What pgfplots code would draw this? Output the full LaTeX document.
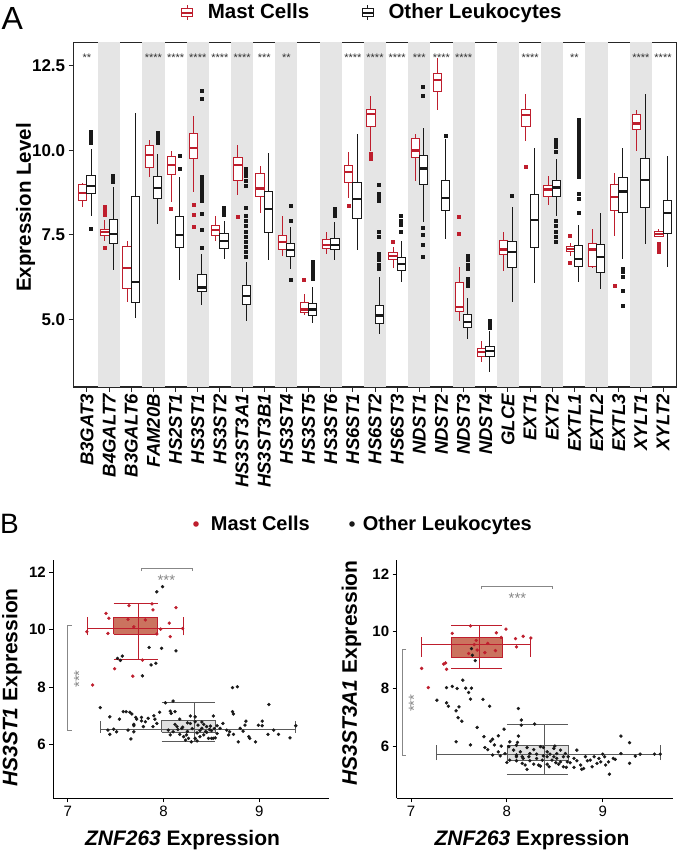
\documentclass[border=0pt]{standalone}
\usepackage{fontspec}
\setmainfont{Liberation Sans}
\usepackage{pgfplots}
\pgfplotsset{compat=1.18}
\usepgfplotslibrary{statistics}

\definecolor{mastred}{RGB}{190,30,45}
\definecolor{mastfill}{RGB}{190,80,55}
\definecolor{otherblk}{RGB}{25,25,25}
\definecolor{bandgray}{RGB}{229,229,229}
\definecolor{sigray}{RGB}{135,135,135}
\definecolor{boxgray}{RGB}{215,215,215}
\definecolor{edgegray}{RGB}{90,90,90}

\newcommand{\fs}[1]{\fontsize{#1}{#1}\selectfont}
% pos, lower whisker, q1, median, q3, upper whisker, outliers
\newcommand{\mastbx}[7]{\addplot[mastred, line width=1pt, fill=white, mark=square*, mark size=1.5pt,
  mark options={fill=mastred, draw=none, solid},
  boxplot prepared={draw position=#1-0.1875, lower whisker=#2, lower quartile=#3,
  median=#4, upper quartile=#5, upper whisker=#6}] coordinates {#7};}
\newcommand{\otherbx}[7]{\addplot[otherblk, line width=1pt, fill=white, mark=square*, mark size=1.5pt,
  mark options={fill=otherblk, draw=none, solid},
  boxplot prepared={draw position=#1+0.1875, lower whisker=#2, lower quartile=#3,
  median=#4, upper quartile=#5, upper whisker=#6}] coordinates {#7};}
% straight segment
\newcommand{\seg}[5]{\addplot[#1, line width=1pt, no markers] coordinates {(#2,#3)(#4,#5)};}

\begin{document}
\begin{tikzpicture}
\useasboundingbox (0pt,0pt) rectangle (677pt,855pt);

% ---------- panel A ----------
\node[anchor=base west, inner sep=0pt, font=\fs{32}] at (1.5pt,825pt) {A};
\draw[mastred, line width=1pt] (187pt,835pt) -- (187pt,849.5pt);
\draw[mastred, line width=1pt, fill=white] (181.5pt,838.5pt) rectangle (192.5pt,846pt);
\draw[mastred, line width=1.6pt] (181.5pt,842.2pt) -- (192.5pt,842.2pt);
\node[anchor=base west, inner sep=0pt, font=\fs{20.5}\bfseries] at (207.6pt,836.7pt) {Mast Cells};
\draw[otherblk, line width=1pt] (367.5pt,835pt) -- (367.5pt,849.5pt);
\draw[otherblk, line width=1pt, fill=white] (362pt,838.5pt) rectangle (373pt,846pt);
\draw[otherblk, line width=1.6pt] (362pt,842.2pt) -- (373pt,842.2pt);
\node[anchor=base west, inner sep=0pt, font=\fs{20.5}\bfseries] at (388.3pt,836.7pt) {Other Leukocytes};
\node[rotate=90, font=\fs{20.5}\bfseries] at (25.5pt,647.5pt) {Expression Level};

\begin{axis}[
  at={(73.7pt,468pt)}, anchor=south west, scale only axis,
  width=602.6pt, height=344.5pt,
  xmin=-0.6, xmax=26.6, ymin=3.01, ymax=13.18,
  xtick={0,...,26},
  xticklabels={B3GAT3,B4GALT7,B3GALT6,FAM20B,HS2ST1,HS3ST1,HS3ST2,HS3ST3A1,HS3ST3B1,
    HS3ST4,HS3ST5,HS3ST6,HS6ST1,HS6ST2,HS6ST3,NDST1,NDST2,NDST3,NDST4,GLCE,EXT1,EXT2,
    EXTL1,EXTL2,EXTL3,XYLT1,XYLT2},
  ytick={5,7.5,10,12.5}, yticklabels={5.0,7.5,10.0,12.5},
  tick pos=left, tick align=outside, major tick length=5pt,
  tick style={line width=1pt, black!85},
  axis line style={line width=1.2pt, black!85},
  x tick label style={rotate=90, anchor=east, font=\fs{18.5}\bfseries\itshape, inner sep=2pt},
  y tick label style={font=\fs{17}\bfseries},
  boxplot/draw direction=y,
  boxplot/whisker extend=0, boxplot/box extend=0.375,
  boxplot/every median/.style={line width=2.2pt},
]
\fill[bandgray] (axis cs:0.5,0) rectangle (axis cs:1.5,20);
\fill[bandgray] (axis cs:2.5,0) rectangle (axis cs:3.5,20);
\fill[bandgray] (axis cs:4.5,0) rectangle (axis cs:5.5,20);
\fill[bandgray] (axis cs:6.5,0) rectangle (axis cs:7.5,20);
\fill[bandgray] (axis cs:8.5,0) rectangle (axis cs:9.5,20);
\fill[bandgray] (axis cs:10.5,0) rectangle (axis cs:11.5,20);
\fill[bandgray] (axis cs:12.5,0) rectangle (axis cs:13.5,20);
\fill[bandgray] (axis cs:14.5,0) rectangle (axis cs:15.5,20);
\fill[bandgray] (axis cs:16.5,0) rectangle (axis cs:17.5,20);
\fill[bandgray] (axis cs:18.5,0) rectangle (axis cs:19.5,20);
\fill[bandgray] (axis cs:20.5,0) rectangle (axis cs:21.5,20);
\fill[bandgray] (axis cs:22.5,0) rectangle (axis cs:23.5,20);
\fill[bandgray] (axis cs:24.5,0) rectangle (axis cs:25.5,20);

\mastbx{0}{8.31}{8.53}{8.74}{8.98}{9.03}{}
\otherbx{0}{8.07}{8.71}{8.95}{9.26}{10.03}{(0,10.55)(0,10.42)(0,10.3)(0,10.2)(0,7.67)}
\mastbx{1}{7.33}{7.48}{7.59}{7.67}{7.94}{(0,8.31)(0,8.2)(0,8.08)(0,7.1)}
\otherbx{1}{6.45}{7.26}{7.53}{7.94}{8.9}{(0,9.25)(0,9.15)(0,9.05)}
\mastbx{2}{5.51}{5.91}{6.52}{7.16}{7.33}{}
\otherbx{2}{5.04}{5.51}{6.12}{8.64}{11.1}{}
\mastbx{3}{9.2}{9.5}{9.87}{10.13}{10.31}{}
\otherbx{3}{7.82}{8.58}{8.89}{9.22}{9.89}{(0,10.5)(0,10.4)(0,10.3)(0,10.2)}
\mastbx{4}{8.48}{9.28}{9.57}{9.82}{9.97}{(0,8.26)}
\otherbx{4}{6.16}{7.13}{7.49}{8.03}{9.22}{(0,9.82)(0,9.46)}
\mastbx{5}{8.76}{9.77}{10.07}{10.49}{11.0}{(0,8.39)(0,8.09)(0,7.72)}
\otherbx{5}{5.44}{5.82}{5.95}{6.32}{6.94}{(0,7.1)(0,7.65)(0,8.12)(0,8.5)(0,8.6)(0,8.7)(0,8.8)(0,8.9)(0,9.0)(0,9.1)(0,9.2)(0,11.51)(0,11.74)}
\mastbx{6}{7.33}{7.48}{7.65}{7.77}{8.07}{}
\otherbx{6}{6.79}{7.1}{7.33}{7.55}{7.92}{(0,8.3)(0,8.2)(0,8.1)}
\mastbx{7}{8.68}{9.12}{9.56}{9.79}{10.16}{(0,8.02)}
\otherbx{7}{4.97}{5.46}{5.69}{6.0}{6.71}{(0,9.44)(0,9.35)(0,9.25)(0,9.1)(0,8.95)(0,8.28)(0,8.05)(0,7.9)(0,7.75)(0,7.6)(0,7.45)(0,7.3)(0,7.15)(0,7.0)(0,6.85)}
\mastbx{8}{8.15}{8.64}{8.87}{9.32}{9.52}{}
\otherbx{8}{6.77}{7.58}{8.27}{8.79}{9.91}{}
\mastbx{9}{6.89}{7.06}{7.28}{7.48}{8.05}{}
\otherbx{9}{6.48}{6.87}{7.06}{7.24}{7.74}{(0,8.36)(0,7.92)(0,6.18)}
\mastbx{10}{5.14}{5.22}{5.3}{5.51}{5.76}{(0,6.18)}
\otherbx{10}{4.9}{5.12}{5.3}{5.48}{5.95}{(0,6.7)(0,6.6)(0,6.5)(0,6.4)(0,6.3)(0,6.2)}
\mastbx{11}{6.94}{7.1}{7.21}{7.35}{7.6}{}
\otherbx{11}{6.77}{7.07}{7.21}{7.4}{7.87}{(0,8.25)(0,8.15)(0,8.05)}
\mastbx{12}{8.58}{9.05}{9.35}{9.54}{9.94}{(0,8.36)}
\otherbx{12}{7.06}{7.97}{8.56}{9.05}{10.48}{}
\mastbx{13}{9.98}{10.7}{11.07}{11.21}{11.6}{(0,9.9)(0,9.82)(0,9.74)}
\otherbx{13}{4.58}{4.87}{5.12}{5.41}{6.25}{(0,8.98)(0,8.7)(0,8.6)(0,8.5)(0,7.6)(0,7.45)(0,6.95)(0,6.85)(0,6.75)(0,6.6)(0,6.5)}
\mastbx{14}{6.52}{6.76}{6.87}{6.99}{7.13}{(0,7.3)}
\otherbx{14}{6.12}{6.45}{6.63}{6.84}{7.33}{(0,8.05)(0,7.9)(0,7.8)(0,7.6)}
\mastbx{15}{9.1}{9.79}{9.99}{10.35}{10.48}{}
\otherbx{15}{7.89}{8.98}{9.46}{9.84}{10.67}{(0,11.87)(0,11.6)(0,7.7)(0,7.5)(0,7.2)(0,6.85)}
\mastbx{16}{11.19}{11.73}{12.07}{12.27}{12.71}{}
\otherbx{16}{7.38}{8.21}{8.59}{9.1}{10.33}{(0,10.43)}
\mastbx{17}{4.97}{5.24}{5.36}{6.1}{6.55}{(0,8.04)(0,7.54)}
\otherbx{17}{4.43}{4.78}{4.94}{5.14}{5.63}{(0,6.88)(0,6.75)(0,6.6)(0,6.5)(0,6.2)(0,6.1)(0,6.0)}
\mastbx{18}{3.76}{3.92}{4.04}{4.16}{4.38}{}
\otherbx{18}{3.45}{3.92}{4.07}{4.2}{4.65}{(0,4.95)(0,4.85)(0,4.75)}
\mastbx{19}{6.43}{6.92}{7.07}{7.33}{7.58}{}
\otherbx{19}{5.51}{6.54}{6.99}{7.31}{8.31}{(0,8.66)}
\mastbx{20}{10.28}{10.7}{11.04}{11.2}{11.66}{(0,9.49)}
\otherbx{20}{6.07}{7.13}{7.94}{8.68}{10.08}{}
\mastbx{21}{8.39}{8.64}{8.84}{8.96}{9.25}{}
\otherbx{21}{8.05}{8.64}{8.9}{9.1}{9.74}{(0,10.3)(0,10.2)(0,10.1)(0,9.95)(0,7.9)(0,7.75)(0,7.6)(0,7.45)(0,7.3)}
\mastbx{22}{6.87}{7.01}{7.08}{7.16}{7.26}{(0,7.48)(0,6.67)}
\otherbx{22}{6.12}{6.56}{6.79}{7.18}{7.78}{(0,10.9)(0,10.8)(0,10.7)(0,10.6)(0,10.5)(0,10.4)(0,10.3)(0,10.2)(0,10.1)(0,10.0)(0,9.9)(0,9.8)(0,9.7)(0,9.6)(0,9.5)(0,9.4)(0,9.3)(0,9.2)(0,8.7)(0,8.55)(0,8.15)}
\mastbx{23}{6.51}{6.56}{7.07}{7.25}{7.68}{}
\otherbx{23}{5.9}{6.4}{6.84}{7.21}{8.15}{}
\mastbx{24}{7.46}{8.22}{8.61}{8.98}{9.33}{(0,6.0)}
\otherbx{24}{6.79}{8.17}{8.78}{9.2}{10.08}{(0,6.5)(0,6.4)(0,6.25)(0,5.83)(0,5.41)}
\mastbx{25}{9.98}{10.6}{10.79}{11.04}{11.19}{}
\otherbx{25}{7.23}{8.32}{9.12}{9.77}{11.66}{}
\mastbx{26}{7.43}{7.46}{7.53}{7.6}{7.68}{(0,7.23)(0,7.1)(0,7.0)}
\otherbx{26}{6.54}{7.55}{8.14}{8.53}{9.84}{}

% significance stars
\addplot[draw=none, no markers, nodes near coords, point meta=explicit symbolic,
  every node near coord/.style={font=\fs{11}, anchor=center, inner sep=0pt, text=black!80}]
  table[meta=s] {
x y s
0 12.74 **
3 12.74 ****
4 12.74 ****
5 12.74 ****
6 12.74 ****
7 12.74 ****
8 12.74 ***
9 12.74 **
12 12.74 ****
13 12.74 ****
14 12.74 ****
15 12.74 ***
16 12.74 ****
17 12.74 ****
20 12.74 ****
22 12.74 **
25 12.74 ****
26 12.74 ****
};
\end{axis}

% ---------- panel B ----------
\node[anchor=base west, inner sep=0pt, font=\fs{28}] at (0pt,321pt) {B};
\fill[mastred] (196pt,331pt) circle (2.8pt);
\node[anchor=base west, inner sep=0pt, font=\fs{20}\bfseries] at (210.7pt,324pt) {Mast Cells};
\fill[otherblk] (352pt,331pt) circle (2.8pt);
\node[anchor=base west, inner sep=0pt, font=\fs{20}\bfseries] at (362.7pt,324pt) {Other Leukocytes};

\node[rotate=90, font=\fs{21}\bfseries] at (12pt,167.5pt) {\textit{HS3ST1} Expression};
\node[font=\fs{21}\bfseries] at (182.5pt,15pt) {\textit{ZNF263} Expression};
\node[rotate=90, font=\fs{21}\bfseries] at (351.5pt,182pt) {\textit{HS3ST3A1} Expression};
\node[font=\fs{21}\bfseries] at (532pt,15pt) {\textit{ZNF263} Expression};

\pgfplotsset{scatterpanel/.style={
  scale only axis, width=276pt, height=238.3pt, anchor=south west,
  xmin=6.85, xmax=9.73,
  axis lines=left, axis line style={-, line width=0.9pt},
  xtick={7,8,9}, xticklabels={7,8,9},
  ytick={6,8,10,12}, yticklabels={6,8,10,12},
  tick align=outside, major tick length=4pt, tick style={line width=0.9pt, black},
  x tick label style={font=\fs{15}},
  y tick label style={font=\fs{15}\bfseries},
}}

\begin{axis}[scatterpanel, at={(53.3pt,56.7pt)}, ymin=4.12, ymax=12.43]
\addplot[only marks, mark=*, mark size=1.5pt, otherblk] coordinates {
(7.34,7.28)(7.44,6.96)(7.54,6.88)(7.58,7.14)(7.61,7.14)(7.65,7.12)(7.67,7.06)(7.71,6.94)
(7.72,6.88)(7.77,6.94)(7.77,6.82)(7.81,6.79)(7.84,6.91)(7.90,7.00)(7.91,6.88)(7.96,7.12)
(7.93,6.73)(7.89,6.62)(8.07,7.16)(8.08,7.08)(8.12,7.14)(8.02,7.45)(8.10,7.51)(8.17,6.88)
(8.28,6.99)(8.33,6.96)(8.52,6.99)(8.28,6.73)(8.33,6.79)(8.36,6.67)(8.40,6.56)(8.45,6.62)
(8.49,6.64)(8.56,6.65)(7.69,6.70)(7.69,6.65)(7.63,6.50)(7.48,6.53)(7.42,6.50)(7.44,6.35)
(7.51,6.44)(7.69,6.44)(7.66,6.19)(7.79,6.62)(8.10,6.44)(8.17,6.35)(8.21,6.27)(8.23,6.15)
(8.33,6.21)(8.35,6.12)(8.38,6.27)(8.45,6.42)(8.50,6.21)(8.54,6.23)(8.56,6.38)(8.59,6.56)
(8.62,6.73)(8.66,6.50)(8.68,6.33)(8.73,6.35)(8.69,6.44)(8.80,6.56)(8.78,6.09)(8.85,6.67)
(8.86,6.81)(8.83,6.46)(8.89,6.27)(8.90,6.21)(8.96,6.09)(8.99,6.67)(9.03,6.65)(9.03,6.81)
(9.09,6.35)(9.15,6.50)(9.20,6.35)(9.32,6.23)(9.38,6.65)(9.10,7.39)(8.72,7.14)(8.73,7.06)
(8.72,7.98)(8.77,8.01)(8.24,6.33)(8.26,6.21)(8.29,6.09)(8.42,6.33)(8.47,6.21)(8.52,6.21)
(8.07,6.33)(8.14,6.62)(8.19,6.56)(8.05,6.50)(8.12,6.70)(8.20,6.60)(8.25,6.45)(8.30,6.55)
(8.38,6.48)(8.42,6.70)(8.48,6.52)(8.15,6.52)(8.35,6.40)(8.44,6.45)(8.50,6.48)(8.25,6.75)
(8.40,6.78)(8.53,6.55)(7.93,11.32)(7.99,11.50)(7.85,9.38)(7.98,9.35)(8.13,9.26)(7.52,9.00)
(7.55,8.93)(7.57,9.08)(7.87,8.77)(7.92,8.83)(7.78,8.39)
};
\addplot[only marks, mark=*, mark size=1.5pt, mastred] coordinates {
(7.64,10.84)(7.88,10.90)(7.89,10.69)(8.13,10.77)(7.40,10.57)(7.43,10.40)(7.63,10.36)
(7.81,10.34)(7.69,10.10)(8.06,10.23)(7.20,9.93)(7.42,9.87)(7.97,10.02)(7.93,9.85)
(8.07,9.76)(8.20,10.04)(7.78,8.94)(7.49,8.64)(7.68,8.38)(7.26,8.07)
};
\addplot[draw=edgegray, line width=0.8pt, fill=boxgray, fill opacity=0.75, no markers]
  coordinates {(7.98,6.42)(8.54,6.42)(8.54,6.82)(7.98,6.82)(7.98,6.42)};
\seg{edgegray}{7.34}{6.52}{9.38}{6.52}
\seg{edgegray}{7.34}{6.40}{7.34}{6.82}
\seg{edgegray}{9.38}{6.40}{9.38}{6.82}
\seg{edgegray}{8.32}{6.09}{8.32}{7.45}
\seg{edgegray}{7.98}{6.09}{8.54}{6.09}
\seg{edgegray}{7.98}{7.45}{8.54}{7.45}
\addplot[draw=mastred, line width=0.8pt, fill=mastfill, fill opacity=0.8, no markers]
  coordinates {(7.48,9.84)(7.94,9.84)(7.94,10.43)(7.48,10.43)(7.48,9.84)};
\seg{mastred}{7.21}{10.05}{8.21}{10.05}
\seg{mastred}{7.21}{9.80}{7.21}{10.45}
\seg{mastred}{8.21}{9.80}{8.21}{10.45}
\seg{mastred}{7.74}{8.96}{7.74}{10.92}
\seg{mastred}{7.48}{8.96}{7.94}{8.96}
\seg{mastred}{7.48}{10.92}{7.94}{10.92}
\draw[sigray, line width=0.8pt] (axis cs:7.04,10.14) -- (axis cs:7.0,10.14) -- (axis cs:7.0,6.48) -- (axis cs:7.04,6.48);
\node[sigray, rotate=90, font=\fs{15}] at (axis cs:7.12,8.28) {***};
\draw[sigray, line width=0.8pt] (axis cs:7.77,12.04) -- (axis cs:7.77,12.14) -- (axis cs:8.30,12.14) -- (axis cs:8.30,12.04);
\node[sigray, font=\fs{15}] at (axis cs:8.03,11.73) {***};
\end{axis}

\begin{axis}[scatterpanel, at={(396.7pt,56.7pt)}, ymin=4.18, ymax=12.49]
\addplot[only marks, mark=*, mark size=1.5pt, otherblk] coordinates {
(7.37,8.04)(7.43,8.08)(7.48,8.01)(7.57,8.02)(7.63,8.02)(7.60,7.87)(7.62,7.64)(7.75,7.63)
(7.82,7.39)(7.27,7.60)(7.37,7.51)(7.39,7.39)(7.50,7.37)(7.47,7.23)(7.49,6.99)(7.53,6.87)
(7.69,6.65)(8.12,7.31)(8.15,6.91)(8.15,6.73)(8.29,6.77)(7.97,6.59)(7.76,6.33)(7.83,6.17)
(7.77,5.95)(7.80,5.88)(7.85,6.24)(7.91,6.36)(7.94,6.00)(7.87,6.04)(7.47,6.15)(7.62,6.04)
(8.03,6.15)(8.11,6.13)(8.12,6.35)(8.02,5.98)(7.91,5.80)(7.93,5.66)(7.85,5.69)(7.98,5.74)
(8.00,5.43)(8.10,5.49)(8.16,5.40)(8.19,5.34)(8.21,5.19)(8.24,5.49)(8.28,5.37)(8.33,5.34)
(8.35,5.30)(8.42,5.37)(8.44,5.28)(8.51,5.42)(8.54,5.37)(8.59,5.28)(8.62,5.26)(8.64,5.63)
(8.66,5.42)(8.70,5.57)(8.73,5.86)(8.73,5.49)(8.77,5.34)(8.78,5.19)(8.82,5.63)(8.84,5.49)
(8.87,5.51)(8.89,5.28)(8.94,5.40)(8.96,5.57)(9.00,5.72)(9.02,5.63)(9.03,5.34)(9.07,5.02)
(9.13,5.54)(9.19,6.35)(9.28,6.12)(9.19,5.74)(9.28,5.40)(9.34,5.65)(9.39,5.72)(9.54,5.72)
(9.60,5.72)(8.16,5.63)(8.31,5.57)(8.37,5.51)(8.47,5.51)(8.52,5.57)(8.56,5.45)(8.63,5.45)
(8.23,5.63)(8.03,5.51)(8.10,5.63)(8.42,5.63)(8.49,5.63)(8.70,5.26)(8.80,5.22)(9.06,5.45)
(9.11,5.57)(8.91,5.63)(8.98,5.45)(8.07,5.86)(8.14,5.80)(8.21,5.95)(8.28,5.88)(8.35,5.98)
(8.42,5.80)(8.49,5.92)(8.56,5.86)(8.61,5.74)(8.10,5.69)(8.24,5.74)(8.31,5.72)(8.38,5.66)
(8.45,5.72)(8.52,5.74)(8.59,5.63)(8.17,5.57)(8.10,6.03)(8.38,5.95)(8.50,6.00)
(7.63,9.40)(7.64,9.17)(7.67,8.98)(7.54,8.30)
};
\addplot[only marks, mark=*, mark size=1.5pt, mastred] coordinates {
(7.62,10.19)(7.99,10.08)(7.43,9.93)(7.89,9.95)(7.94,9.79)(8.09,9.75)(8.17,9.83)(8.25,9.77)
(7.68,9.69)(7.80,9.58)(7.66,9.54)(8.10,9.46)(7.69,9.35)(7.88,9.33)(7.77,9.26)(7.60,9.23)
(7.34,8.86)(7.36,8.90)(7.37,8.68)(7.11,8.71)(7.18,8.04)
};
\addplot[draw=edgegray, line width=0.8pt, fill=boxgray, fill opacity=0.75, no markers]
  coordinates {(8.00,5.51)(8.64,5.51)(8.64,6.03)(8.00,6.03)(8.00,5.51)};
\seg{edgegray}{7.27}{5.72}{9.60}{5.72}
\seg{edgegray}{7.27}{5.51}{7.27}{6.03}
\seg{edgegray}{9.60}{5.51}{9.60}{6.03}
\seg{edgegray}{8.39}{5.02}{8.39}{6.77}
\seg{edgegray}{8.00}{5.02}{8.64}{5.02}
\seg{edgegray}{8.00}{6.77}{8.64}{6.77}
\addplot[draw=mastred, line width=0.8pt, fill=mastfill, fill opacity=0.8, no markers]
  coordinates {(7.42,9.11)(7.95,9.11)(7.95,9.79)(7.42,9.79)(7.42,9.11)};
\seg{mastred}{7.11}{9.54}{8.25}{9.54}
\seg{mastred}{7.11}{9.11}{7.11}{9.79}
\seg{mastred}{8.25}{9.11}{8.25}{9.79}
\seg{mastred}{7.71}{8.69}{7.71}{10.19}
\seg{mastred}{7.42}{8.69}{7.95}{8.69}
\seg{mastred}{7.42}{10.19}{7.95}{10.19}
\draw[sigray, line width=0.8pt] (axis cs:6.95,9.37) -- (axis cs:6.91,9.37) -- (axis cs:6.91,5.66) -- (axis cs:6.95,5.66);
\node[sigray, rotate=90, font=\fs{15}] at (axis cs:7.03,7.5) {***};
\draw[sigray, line width=0.8pt] (axis cs:7.73,11.47) -- (axis cs:7.73,11.57) -- (axis cs:8.47,11.57) -- (axis cs:8.47,11.47);
\node[sigray, font=\fs{15}] at (axis cs:8.11,11.14) {***};
\end{axis}
\end{tikzpicture}
\end{document}
